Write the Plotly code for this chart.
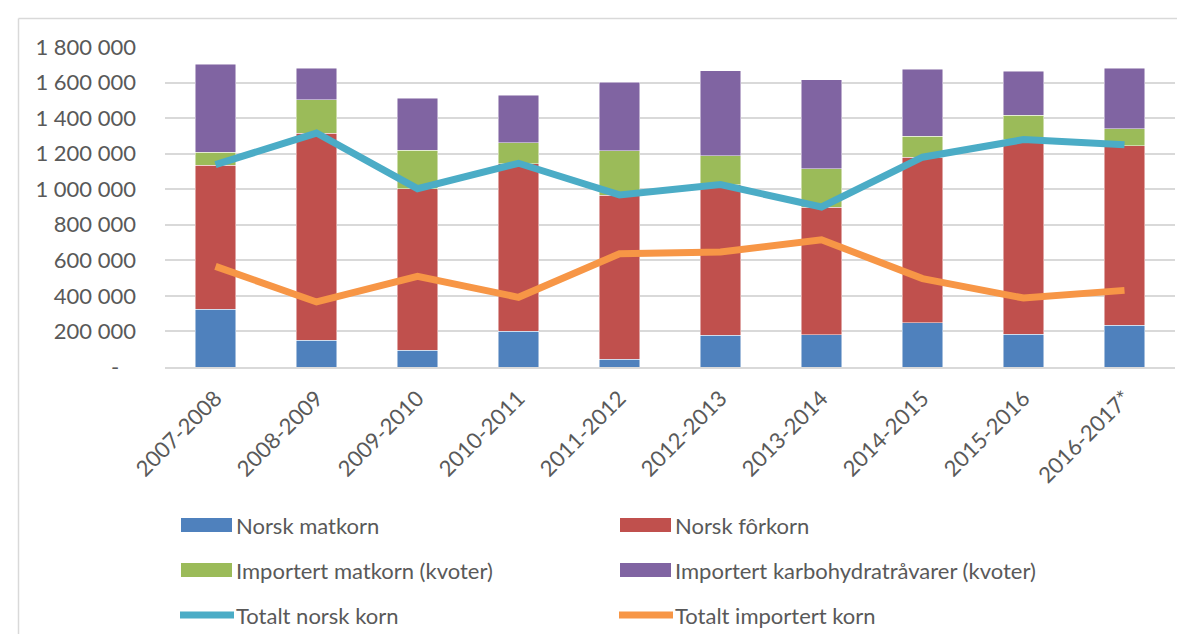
import plotly.graph_objects as go

categories = ["2007-2008", "2008-2009", "2009-2010", "2010-2011", "2011-2012",
              "2012-2013", "2013-2014", "2014-2015", "2015-2016", "2016-2017*"]

norsk_matkorn = [326000, 150000, 94000, 201000, 43000, 178000, 182000, 248000, 184000, 234000]
norsk_forkorn = [808000, 1166000, 909000, 943000, 923000, 848000, 718000, 931000, 1095000, 1011000]
importert_matkorn = [75000, 188000, 216000, 118000, 251000, 161000, 214000, 120000, 137000, 94000]
importert_karbo = [495000, 176000, 292000, 266000, 386000, 480000, 502000, 375000, 249000, 341000]
totalt_norsk = [1138000, 1316000, 1003000, 1146000, 968000, 1026000, 900000, 1180000, 1279000, 1250000]
totalt_importert = [566000, 366000, 510000, 392000, 637000, 647000, 716000, 497000, 388000, 431000]

y_tickvals = [0, 200000, 400000, 600000, 800000, 1000000, 1200000, 1400000, 1600000, 1800000]
y_ticktext = ["-\u00a0\u00a0\u00a0", "200 000", "400 000", "600 000", "800 000", "1 000 000",
              "1 200 000", "1 400 000", "1 600 000", "1 800 000"]

bar_series = [
    ("Norsk matkorn", norsk_matkorn, "#4f81bd"),
    ("Norsk fôrkorn", norsk_forkorn, "#c0504d"),
    ("Importert matkorn (kvoter)", importert_matkorn, "#9bbb59"),
    ("Importert karbohydratråvarer (kvoter)", importert_karbo, "#8064a2"),
]
line_series = [
    ("Totalt norsk korn", totalt_norsk, "#4bacc6"),
    ("Totalt importert korn", totalt_importert, "#f79646"),
]

FONT = "Lato"
TXT = "#595959"
FS = 22

fig = go.Figure()
for name, vals, col in bar_series:
    fig.add_trace(go.Bar(x=categories, y=vals, name=name, marker_color=col,
                         marker_line=dict(color="rgba(255,255,255,0.6)", width=0.8),
                         showlegend=False))
for name, vals, col in line_series:
    fig.add_trace(go.Scatter(x=categories, y=vals, name=name, mode="lines",
                             line=dict(color=col, width=7), showlegend=False))

W, H = 1185, 634
L, R, T, B = 157, 18, 39, 275
pw, ph = W - L - R, H - T - B

def px(x):
    return (x - L) / pw

def py(y):
    return (H - B - y) / ph

shapes = []
annotations = []
# manual legend (2 columns x 3 rows)
legend_items = bar_series + line_series
cols_x = [173, 612]
rows_y = [517, 562, 607]
for i, (name, vals, col) in enumerate(legend_items):
    cx = cols_x[i % 2]
    cy = rows_y[i // 2]
    if i < 4:
        shapes.append(dict(type="rect", xref="paper", yref="paper",
                           x0=px(cx), x1=px(cx + 51), y0=py(cy + 7), y1=py(cy - 7),
                           fillcolor=col, line=dict(width=0)))
    else:
        shapes.append(dict(type="line", xref="paper", yref="paper",
                           x0=px(cx - 1), x1=px(cx + 53), y0=py(cy), y1=py(cy),
                           line=dict(color=col, width=7)))
    annotations.append(dict(xref="paper", yref="paper", x=px(cx + 53), y=py(cy),
                            xanchor="left", yanchor="middle", showarrow=False,
                            text=name, font=dict(family=FONT, size=FS, color=TXT)))

# outer chart border (left and top visible)
shapes.append(dict(type="line", xref="paper", yref="paper",
                   x0=px(10.5), x1=px(10.5), y0=py(10.5), y1=py(640),
                   line=dict(color="#d9d9d9", width=1.5)))
shapes.append(dict(type="line", xref="paper", yref="paper",
                   x0=px(10.5), x1=px(1190), y0=py(10.5), y1=py(10.5),
                   line=dict(color="#d9d9d9", width=1.5)))

fig.update_layout(
    width=W, height=H,
    margin=dict(l=L, r=R, t=T, b=B, autoexpand=False),
    barmode="stack", bargap=0.6,
    plot_bgcolor="white", paper_bgcolor="white",
    font=dict(family=FONT, size=FS, color=TXT),
    shapes=shapes, annotations=annotations,
    showlegend=False,
)
fig.update_yaxes(range=[0, 1800000], tickvals=y_tickvals, ticktext=y_ticktext,
                 showgrid=True, gridcolor="#d9d9d9", gridwidth=1.5,
                 zeroline=False, showline=False, ticks="",
                 ticklabelstandoff=28, tickfont=dict(family=FONT, size=FS, color=TXT))
fig.update_xaxes(tickangle=-45, showgrid=False, showline=True, linecolor="#d9d9d9",
                 linewidth=1.5, ticks="", ticklabelstandoff=8,
                 tickfont=dict(family=FONT, size=FS, color=TXT))

fig.write_html("out.html")
